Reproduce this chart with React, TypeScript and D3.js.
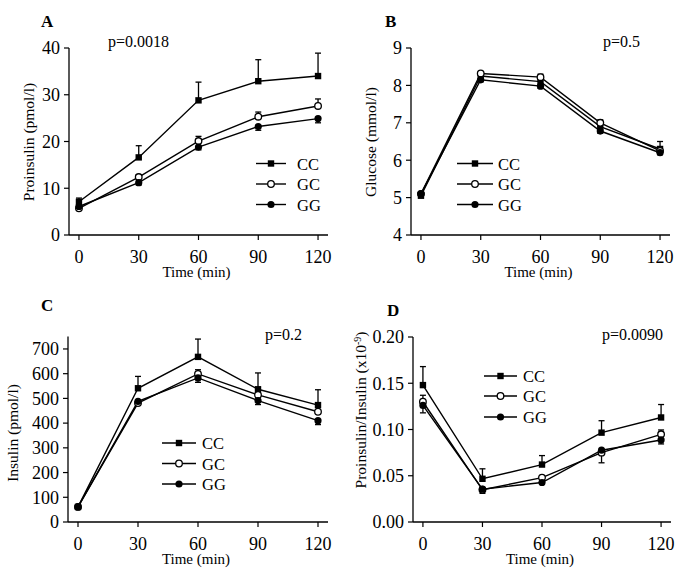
import React from 'react';
import * as d3 from 'd3';

// time points (min) and genotype groups
const TIMES = [0, 30, 60, 90, 120];
const GENOTYPES = ['CC', 'GC', 'GG'];

// A: proinsulin (pmol/l); *_ERR holds the end of each error bar
const PROINSULIN_CC = [7.1, 16.6, 28.8, 32.9, 34.0];
const PROINSULIN_CC_ERR = [7.9, 19.1, 32.7, 37.5, 38.9];
const PROINSULIN_GC = [5.7, 12.4, 20.1, 25.3, 27.6];
const PROINSULIN_GC_ERR = [6.2, 12.9, 21.1, 26.3, 29.1];
const PROINSULIN_GG = [6.1, 11.2, 18.8, 23.2, 24.9];
const PROINSULIN_GG_ERR = [5.6, 10.7, 18.2, 22.4, 24.0];

// B: glucose (mmol/l)
const GLUCOSE_CC = [5.05, 8.25, 8.1, 6.9, 6.3];
const GLUCOSE_CC_ERR = [5.1, 8.3, 8.2, 7.0, 6.5];
const GLUCOSE_GC = [5.1, 8.32, 8.22, 7.0, 6.25];
const GLUCOSE_GC_ERR = [5.15, 8.35, 8.3, 7.08, 6.35];
const GLUCOSE_GG = [5.1, 8.15, 7.98, 6.78, 6.2];
const GLUCOSE_GG_ERR = [5.05, 8.1, 7.92, 6.72, 6.15];

// C: insulin (pmol/l)
const INSULIN_CC = [61, 541, 668, 537, 473];
const INSULIN_CC_ERR = [66, 589, 740, 603, 535];
const INSULIN_GC = [61, 481, 599, 514, 446];
const INSULIN_GC_ERR = [66, 490, 616, 524, 452];
const INSULIN_GG = [61, 488, 583, 491, 410];
const INSULIN_GG_ERR = [56, 478, 565, 475, 394];

// D: proinsulin/insulin ratio (x10^-9)
const RATIO_CC = [0.148, 0.0467, 0.0621, 0.0966, 0.113];
const RATIO_CC_ERR = [0.168, 0.0575, 0.0718, 0.1095, 0.127];
const RATIO_GC = [0.130, 0.0348, 0.048, 0.075, 0.0948];
const RATIO_GC_ERR = [0.137, 0.036, 0.050, 0.064, 0.0995];
const RATIO_GG = [0.126, 0.0355, 0.0427, 0.0776, 0.0887];
const RATIO_GG_ERR = [0.118, 0.031, 0.041, 0.075, 0.0844];

const TICKS_A = [0, 10, 20, 30, 40];
const TICKS_B = [4, 5, 6, 7, 8, 9];
const TICKS_C = [0, 100, 200, 300, 400, 500, 600, 700];
const TICKS_D = [0, 0.05, 0.1, 0.15, 0.2];

const FONT = '"Liberation Serif", "Times New Roman", serif';

type Panel = {
  letter: string;
  p: string;
  pX: number;
  ylabel: React.ReactNode;
  ylabelX: number;
  ylabelY: number;
  x0: number;
  x1: number;
  yTop: number;
  yBottom: number;
  domain: [number, number];
  ticks: number[];
  fmt: (v: number) => string;
  series: { values: number[]; err: number[] }[];
  legend: { x0: number; x1: number; tx: number; ys: number[] };
  letterPos: [number, number];
  pY: number;
};

const PANELS: Panel[] = [
  {
    letter: 'A', p: 'p=0.0018', pX: 108, pY: 47, letterPos: [41, 27],
    ylabel: 'Proinsulin (pmol/l)', ylabelX: 29, ylabelY: 142,
    x0: 69, x1: 328, yTop: 48, yBottom: 235, domain: [0, 40], ticks: TICKS_A, fmt: d3.format('d'),
    series: [
      { values: PROINSULIN_CC, err: PROINSULIN_CC_ERR },
      { values: PROINSULIN_GC, err: PROINSULIN_GC_ERR },
      { values: PROINSULIN_GG, err: PROINSULIN_GG_ERR },
    ],
    legend: { x0: 256, x1: 286, tx: 297, ys: [163.5, 184, 204.5] },
  },
  {
    letter: 'B', p: 'p=0.5', pX: 603, pY: 47, letterPos: [385, 27],
    ylabel: 'Glucose (mmol/l)', ylabelX: 371, ylabelY: 142,
    x0: 411, x1: 670, yTop: 48, yBottom: 235, domain: [4, 9], ticks: TICKS_B, fmt: d3.format('d'),
    series: [
      { values: GLUCOSE_CC, err: GLUCOSE_CC_ERR },
      { values: GLUCOSE_GC, err: GLUCOSE_GC_ERR },
      { values: GLUCOSE_GG, err: GLUCOSE_GG_ERR },
    ],
    legend: { x0: 457, x1: 493, tx: 498, ys: [163.5, 184, 204.5] },
  },
  {
    letter: 'C', p: 'p=0.2', pX: 265, pY: 340, letterPos: [41, 311],
    ylabel: 'Insulin (pmol/l)', ylabelX: 13, ylabelY: 433,
    x0: 68, x1: 328, yTop: 336.6, yBottom: 522, domain: [0, 750], ticks: TICKS_C, fmt: d3.format('d'),
    series: [
      { values: INSULIN_CC, err: INSULIN_CC_ERR },
      { values: INSULIN_GC, err: INSULIN_GC_ERR },
      { values: INSULIN_GG, err: INSULIN_GG_ERR },
    ],
    legend: { x0: 162, x1: 196, tx: 202, ys: [443, 463.5, 484] },
  },
  {
    letter: 'D', p: 'p=0.0090', pX: 602, pY: 340, letterPos: [387, 316],
    ylabel: (
      <>
        Proinsulin/Insulin (x10
        <tspan baselineShift="super" fontSize={10}>-9</tspan>)
      </>
    ),
    ylabelX: 361, ylabelY: 410,
    x0: 413, x1: 671, yTop: 337, yBottom: 522, domain: [0, 0.2], ticks: TICKS_D, fmt: d3.format('.2f'),
    series: [
      { values: RATIO_CC, err: RATIO_CC_ERR },
      { values: RATIO_GC, err: RATIO_GC_ERR },
      { values: RATIO_GG, err: RATIO_GG_ERR },
    ],
    legend: { x0: 484, x1: 517, tx: 523, ys: [376, 396, 417] },
  },
];

function Marker({ kind, x, y }: { kind: number; x: number; y: number }) {
  if (kind === 0) return <rect x={x - 3.2} y={y - 3.2} width={6.4} height={6.4} fill="#000" />;
  if (kind === 1) return <circle cx={x} cy={y} r={3.3} fill="#fff" stroke="#000" strokeWidth={1.3} />;
  return <circle cx={x} cy={y} r={3.6} fill="#000" />;
}

function PanelView({ p }: { p: Panel }) {
  const x = d3.scaleLinear().domain([-5, 125]).range([p.x0, p.x1]);
  const y = d3.scaleLinear().domain(p.domain).range([p.yBottom, p.yTop]);
  const line = d3
    .line<number>()
    .x((_, i) => x(TIMES[i]))
    .y((d) => y(d));

  return (
    <g fontFamily={FONT} fill="#000">
      <text x={p.letterPos[0]} y={p.letterPos[1]} fontSize={17} fontWeight="bold">{p.letter}</text>
      <text x={p.pX} y={p.pY} fontSize={16}>{p.p}</text>

      {/* axes */}
      <line x1={p.x0} x2={p.x0} y1={p.yTop} y2={p.yBottom} stroke="#000" strokeWidth={1.3} />
      <line x1={p.x0} x2={p.x1} y1={p.yBottom} y2={p.yBottom} stroke="#000" strokeWidth={1.3} />
      {p.ticks.map((t) => (
        <g key={t}>
          <line x1={p.x0 - 5} x2={p.x0} y1={y(t)} y2={y(t)} stroke="#000" strokeWidth={1.2} />
          <text x={p.x0 - 9} y={y(t)} dy="0.35em" textAnchor="end" fontSize={18}>{p.fmt(t)}</text>
        </g>
      ))}
      {TIMES.map((t) => (
        <g key={t}>
          <line x1={x(t)} x2={x(t)} y1={p.yBottom} y2={p.yBottom + 5} stroke="#000" strokeWidth={1.2} />
          <text x={x(t)} y={p.yBottom + 28} textAnchor="middle" fontSize={18}>{t}</text>
        </g>
      ))}
      <text x={x(60) - 2} y={p.yBottom + 42} textAnchor="middle" fontSize={15}>Time (min)</text>
      <text
        transform={`translate(${p.ylabelX},${p.ylabelY}) rotate(-90)`}
        textAnchor="middle"
        dy="0.35em"
        fontSize={15.5}
      >
        {p.ylabel}
      </text>

      {/* error bars */}
      {p.series.map((s, si) =>
        s.values.map((v, i) => (
          <g key={`e${si}-${i}`} stroke="#000" strokeWidth={1.3}>
            <line x1={x(TIMES[i])} x2={x(TIMES[i])} y1={y(v)} y2={y(s.err[i])} />
            <line x1={x(TIMES[i]) - 3} x2={x(TIMES[i]) + 3} y1={y(s.err[i])} y2={y(s.err[i])} />
          </g>
        ))
      )}

      {/* lines + markers */}
      {p.series.map((s, si) => (
        <path key={`l${si}`} d={line(s.values) ?? ''} fill="none" stroke="#000" strokeWidth={1.4} />
      ))}
      {p.series.map((s, si) =>
        s.values.map((v, i) => <Marker key={`m${si}-${i}`} kind={si} x={x(TIMES[i])} y={y(v)} />)
      )}

      {/* legend */}
      {GENOTYPES.map((g, gi) => (
        <g key={g}>
          <line x1={p.legend.x0} x2={p.legend.x1} y1={p.legend.ys[gi]} y2={p.legend.ys[gi]} stroke="#000" strokeWidth={1.4} />
          <Marker kind={gi} x={(p.legend.x0 + p.legend.x1) / 2} y={p.legend.ys[gi]} />
          <text x={p.legend.tx} y={p.legend.ys[gi] + 6} fontSize={16.5}>{g}</text>
        </g>
      ))}
    </g>
  );
}

export default function App() {
  return (
    <svg
      width={685}
      height={579}
      viewBox="0 0 685 579"
      style={{ position: 'absolute', left: 0, top: 0, background: '#fff' }}
    >
      <rect width={685} height={579} fill="#fff" />
      {PANELS.map((p) => (
        <PanelView key={p.letter} p={p} />
      ))}
    </svg>
  );
}
